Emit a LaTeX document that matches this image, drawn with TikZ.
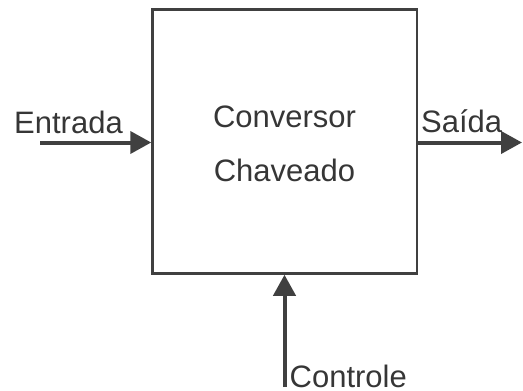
\documentclass[tikz,border=0pt]{standalone}
\usepackage{fontspec}
\setmainfont{Liberation Sans}
\usetikzlibrary{arrows.meta}
\definecolor{ink}{HTML}{404040}
\definecolor{txt}{HTML}{363636}
\begin{document}
\begin{tikzpicture}[x=1pt,y=-1pt,
  blockbox/.style={draw=ink,line width=2.5pt,minimum width=264.5pt,minimum height=264pt,inner sep=0pt},
  sig/.style={draw=ink,line width=4pt,-{Triangle[length=21pt,width=22pt]}},
  lbl/.style={text=txt,font=\fontsize{31}{37}\selectfont,inner sep=0pt,anchor=base west}]
\useasboundingbox (0,0) rectangle (523,391);
% switching converter block
\node[blockbox] (conv) at (284.75,141.5) {};
\node[lbl,anchor=base] (t1) at (284.5,127) {Conversor};
\node[lbl,anchor=base] (t2) at (284.5,181) {Chaveado};
% input, output and control signals
\coordinate (inA) at (40,142.5);
\coordinate (outB) at (522,142.5);
\coordinate (ctlA) at (284.5,387);
\draw[sig] (inA) -- (conv.west |- inA);
\draw[sig] (conv.east |- outB) -- (outB);
\draw[sig] (ctlA) -- (conv.south -| ctlA);
\node[lbl] (lin) at (14,133) {Entrada};
\node[lbl] (lout) at (421,132) {Saída};
\node[lbl] (lctl) at (289.5,387) {Controle};
\end{tikzpicture}
\end{document}
